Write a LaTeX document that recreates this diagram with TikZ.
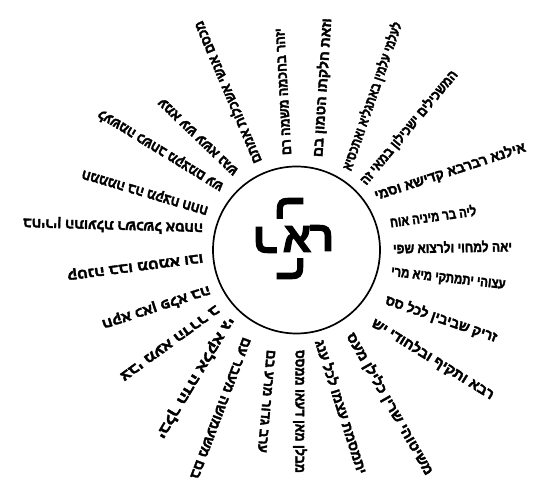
\documentclass[tikz,border=0pt]{standalone}
\usepackage{fontspec}
\usepackage{graphicx}
\newfontfamily\heb[Script=Hebrew, BoldFeatures={FakeBold=2.5}]{Liberation Sans}
\TeXXeTstate=1
\tikzset{
  ray/.style={anchor=west, inner sep=0pt, outer sep=0pt, font=\heb\bfseries\fontsize{14}{14}\selectfont},
  bigletter/.style={inner sep=0pt, outer sep=0pt, font=\heb\bfseries\fontsize{42}{42}\selectfont},
  ring/.style={draw, circle, line width=1.7pt, inner sep=0pt}
}
\newcommand{\rayt}[6]{\node[ray, rotate=#4] (#1) at (#2,#3) {\resizebox{#5pt}{\height}{#6}};}
\begin{document}
\begin{tikzpicture}[x=1pt,y=-1pt]
\useasboundingbox (0,0) rectangle (550,500);
\node[ring, minimum size=167pt] (c) at (296.5,250) {};
% centre letters
\node[bigletter] (alef) at (297,239) {א};
\node[bigletter] (reshR) at (322,238) {ר};
\node[bigletter, rotate=90] (reshT) at (290,207) {ר};
\node[bigletter, rotate=180] (reshL) at (265,240) {ר};
\node[bigletter, rotate=-90] (reshB) at (290,270) {ר};
% top rays
\rayt{t1}{257}{163}{113}{153}{\beginR מכסם אנשי אשכלות אמתם\endR}
\rayt{t2}{287}{155}{93.2}{127}{\beginR יזהר בחכמה משמה רם\endR}
\rayt{t3}{318}{157}{86.3}{139}{\beginR וזאת חלקתו הטמון בם\endR}
\rayt{t4}{347}{170}{70.9}{156}{\beginR לעלמי עלמין באתגליא ואתכסיא\endR}
\rayt{t5}{363}{183}{50.3}{144}{\beginR המשכילים ישכילון במאי זה\endR}
% right rays
\rayt{r1}{375}{196}{18.1}{158}{\beginR אילנא רברבא קדישא וסמי\endR}
\rayt{r2}{390}{222}{7.9}{87}{\beginR ליה בר מיניה אוח\endR}
\rayt{r3}{393}{248}{1}{119}{\beginR יאה למחוי ולרצוא שפי\endR}
\rayt{r4}{391}{273}{-6.5}{115}{\beginR עצוהי יתמתקי מיא מרי\endR}
\rayt{r5}{386}{300}{-18.9}{117}{\beginR זריק שביבין לכל סס\endR}
\rayt{r6}{373}{322}{-31.7}{141}{\beginR רבא ותקיף ובלחודי יש\endR}
\rayt{r7}{350}{334}{-60.3}{161}{\beginR משיטוהי שרין כלילן מעס\endR}
% bottom rays
\rayt{b1}{320}{340}{-72.1}{140}{\beginR יתמסמת עצמו לכל ענג\endR}
\rayt{b2}{300}{350}{-90}{123}{\beginR מבלן מאן דעאו ממסס\endR}
\rayt{b3}{271}{350}{-95}{103}{\beginR ערב גדור מרע בם\endR}
% left rays
\rayt{l9}{247}{338}{249.3}{150}{\beginR בם משעמושה מעבר עם\endR}
\rayt{l8}{231}{318}{239.2}{139}{\beginR יבלך הדה אלקא גי\endR}
\rayt{l7}{218}{308}{216}{119}{\beginR צבי מעא הדרר ב\endR}
\rayt{l6}{210}{290}{198}{113}{\beginR חקא כאן פלא בה\endR}
\rayt{l5}{203}{257}{187.5}{137}{\beginR קטנה בבו מטמא ובו\endR}
\rayt{l4}{203}{228}{178.4}{180}{\beginR בחירין התועלת רשכשל אסחה\endR}
\rayt{l3}{208}{210}{163.6}{131}{\beginR חמממה בה מקצח חחח\endR}
\rayt{l2}{222}{188}{148.6}{144}{\beginR לעשמה כשחב מקצמם עש\endR}
\rayt{l1}{236}{173}{136.2}{105}{\beginR עמא עש עשא נגש\endR}
\end{tikzpicture}
\end{document}
